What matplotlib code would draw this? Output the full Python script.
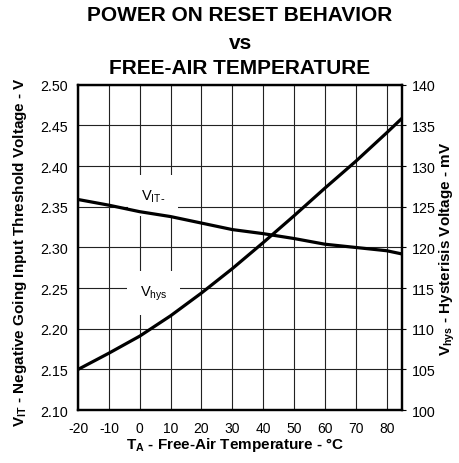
import matplotlib.pyplot as plt
import numpy as np

plt.rcParams['font.family'] = ['Liberation Sans', 'DejaVu Sans']
plt.rcParams['axes.unicode_minus'] = False

# free-air temperature, degC
temp = [-20, -10, 0, 10, 20, 30, 40, 50, 60, 70, 80, 85]
# negative going input threshold voltage, V
v_it = [2.359, 2.352, 2.344, 2.338, 2.330, 2.322, 2.317, 2.311, 2.304, 2.300, 2.296, 2.292]
# hysteresis voltage, mV
v_hys = [105.0, 107.0, 109.1, 111.6, 114.4, 117.4, 120.6, 123.9, 127.3, 130.6, 134.1, 135.9]

fig = plt.figure(figsize=(4.59, 4.64), dpi=100)
ax = fig.add_axes([0.170, 0.114, 0.706, 0.701])
ax2 = ax.twinx()

ax.set_xlim(-20, 85)
ax.set_ylim(2.10, 2.50)
ax2.set_ylim(100, 140)

ax.set_xticks(np.arange(-20, 81, 10))
ax.set_yticks(np.arange(2.10, 2.501, 0.05))
ax.set_yticklabels(["%.2f" % v for v in np.arange(2.10, 2.501, 0.05)])
ax2.set_yticks(np.arange(100, 141, 5))

ax.grid(True, color="#222222", linewidth=0.8)
ax.set_axisbelow(True)

ax.tick_params(axis="x", length=0, pad=8, labelsize=10)
ax.tick_params(axis="y", length=0, pad=7, labelsize=10.3)
ax2.tick_params(axis="y", direction="out", length=3, width=0.8, pad=4, labelsize=10.3)

for a in (ax, ax2):
    for s in a.spines.values():
        s.set_linewidth(1.6)

ax.plot(temp, v_it, color="black", linewidth=2.3, zorder=5, solid_capstyle="butt")
ax2.plot(temp, v_hys, color="black", linewidth=2.3, zorder=5, solid_capstyle="butt")

box = dict(facecolor="white", edgecolor="none", pad=9)
ax.text(4.3, 2.364, "V$_{\\mathregular{IT}}$$_{\\mathregular{\\text{-}}}$", fontsize=10.5,
        ha="center", va="center", bbox=box, zorder=3)
ax.text(4.5, 2.244, r"V$_{\mathregular{hys}}$", fontsize=10.5, ha="center", va="center",
        bbox=box, zorder=3)

ax.set_xlabel(r"T$_{\mathregular{A}}$ - Free-Air Temperature - °C", fontsize=11,
              fontweight="bold")
ax.set_ylabel(r"V$_{\mathregular{IT}}$ - Negative Going Input Threshold Voltage - V",
              fontsize=11, fontweight="bold")
ax2.set_ylabel(r"V$_{\mathregular{hys}}$ - Hysterisis Voltage - mV", fontsize=11,
               fontweight="bold", rotation=90)
ax.xaxis.set_label_coords(0.485, -0.104)
ax.xaxis.label.set_va("center")
ax.yaxis.set_label_coords(-0.179, 0.49)
ax.yaxis.label.set_va("center")
ax2.yaxis.set_label_coords(1.139, 0.5)
ax2.yaxis.label.set_va("center")

fig.text(0.523, 1 - 21 / 464, "POWER ON RESET BEHAVIOR", fontsize=15, fontweight="bold",
         ha="center", va="baseline")
fig.text(0.523, 1 - 49 / 464, "vs", fontsize=15, fontweight="bold", ha="center", va="baseline")
fig.text(0.523, 1 - 74 / 464, "FREE-AIR TEMPERATURE", fontsize=15, fontweight="bold",
         ha="center", va="baseline")

fig.savefig("out.png", dpi=100)
